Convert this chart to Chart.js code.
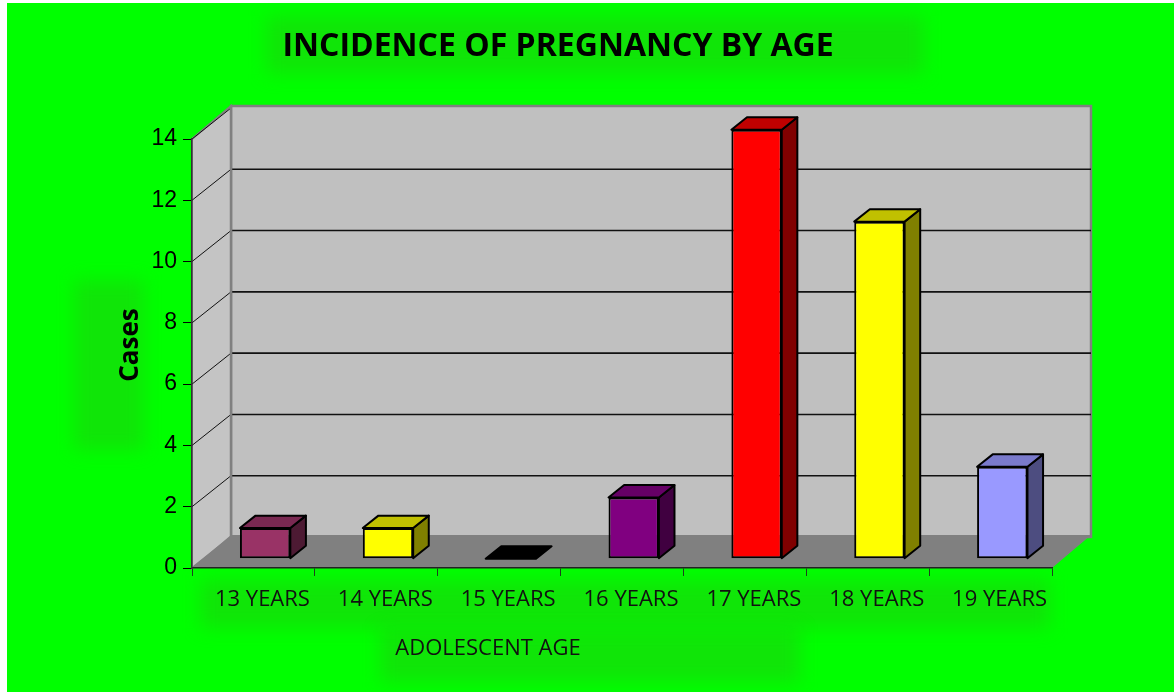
<!DOCTYPE html>
<html>
<head>
<meta charset="utf-8">
<title>Incidence of pregnancy by age</title>
<script src="https://cdn.jsdelivr.net/npm/chart.js@4.4.1/dist/chart.umd.min.js"></script>
<style>
  html, body { margin: 0; padding: 0; background: #fff; }
  #wrap { width: 1174px; height: 692px; }
</style>
</head>
<body>
<div id="wrap"><canvas id="pregChart" width="1174" height="692"></canvas></div>
<script>
// data
const ageLabels = ['13 YEARS', '14 YEARS', '15 YEARS', '16 YEARS', '17 YEARS', '18 YEARS', '19 YEARS'];
const caseCounts = [1, 1, 0, 2, 14, 11, 3];
const faceColors = ['#993366', '#ffff00', '#000000', '#800080', '#ff0000', '#ffff00', '#9999ff'];
const topColors  = ['#7a2952', '#c0c000', '#000000', '#660066', '#c00000', '#c0c000', '#7a7acc'];
const sideColors = ['#4d1a33', '#808000', '#000000', '#400040', '#800000', '#808000', '#4d4d80'];
const yMax = 14;
const yStep = 2;

const chartTitle = 'INCIDENCE OF PREGNANCY BY AGE';
const yTitle = 'Cases';
const xTitle = 'ADOLESCENT AGE';

// fake 3d depth
const DEPTH_X = 39, DEPTH_Y = -31;
const BAR_FRONT = 0.3, BAR_DEPTH = 0.4;

function poly(ctx, pts, fill, stroke, lw) {
    ctx.beginPath();
    ctx.moveTo(pts[0][0], pts[0][1]);
    for (let i = 1; i < pts.length; i++) ctx.lineTo(pts[i][0], pts[i][1]);
    ctx.closePath();
    if (fill) { ctx.fillStyle = fill; ctx.fill(); }
    if (stroke) { ctx.strokeStyle = stroke; ctx.lineWidth = lw || 1; ctx.stroke(); }
}

function softPatch(ctx, x, y, w, h) {
    ctx.save();
    ctx.filter = 'blur(9px)';
    ctx.fillStyle = 'rgba(40,190,20,0.4)';
    ctx.fillRect(x, y, w, h);
    ctx.restore();
}

// green page + the box walls, drawn before the axes
const backdrop = {
    id: 'backdrop',
    beforeDraw(chart) {
        const ctx = chart.ctx;
        const ys = chart.scales.y;
        const a = chart.chartArea;
        ctx.save();
        ctx.fillStyle = '#ffffff';
        ctx.fillRect(0, 0, chart.width, chart.height);
        ctx.fillStyle = '#00ff00';
        ctx.fillRect(7, 3, chart.width - 7, chart.height - 3);

        softPatch(ctx, 266, 16, 658, 58);
        softPatch(ctx, 74, 280, 70, 170);
        softPatch(ctx, 200, 580, 850, 48);
        softPatch(ctx, 380, 630, 420, 52);

        const y0 = ys.getPixelForValue(0);
        const yTop = ys.getPixelForValue(yMax);
        const L = a.left, R = a.right;

        // back wall
        poly(ctx, [[L + DEPTH_X, yTop + DEPTH_Y - 2], [R + DEPTH_X, yTop + DEPTH_Y - 2],
                   [R + DEPTH_X, y0 + DEPTH_Y], [L + DEPTH_X, y0 + DEPTH_Y]], '#c0c0c0', '#808080', 2.5);
        // side wall
        poly(ctx, [[L, yTop], [L + DEPTH_X, yTop + DEPTH_Y - 2], [L + DEPTH_X, y0 + DEPTH_Y], [L, y0]],
             '#c4c4c4', '#808080', 2);
        // floor
        poly(ctx, [[L, y0], [L + DEPTH_X, y0 + DEPTH_Y - 2], [R + DEPTH_X, y0 + DEPTH_Y - 2], [R, y0]],
             '#808080', null);

        // gridlines on the walls
        ctx.strokeStyle = '#111';
        for (let v = yStep; v <= yMax; v += yStep) {
            const py = ys.getPixelForValue(v);
            if (v < yMax) {
                ctx.lineWidth = 1.6;
                ctx.beginPath();
                ctx.moveTo(L + DEPTH_X, py + DEPTH_Y);
                ctx.lineTo(R + DEPTH_X, py + DEPTH_Y);
                ctx.stroke();
            }
            ctx.lineWidth = 1;
            ctx.beginPath();
            ctx.moveTo(L, py);
            ctx.lineTo(L + DEPTH_X, py + DEPTH_Y);
            ctx.stroke();
        }
        // back corner edge
        ctx.strokeStyle = '#808080';
        ctx.lineWidth = 2.5;
        ctx.beginPath();
        ctx.moveTo(L + DEPTH_X, yTop + DEPTH_Y - 2);
        ctx.lineTo(L + DEPTH_X, y0 + DEPTH_Y);
        ctx.stroke();
        ctx.restore();
    }
};

// push bars into the box and give them a top and a side
const bars3d = {
    id: 'bars3d',
    beforeDatasetDraw(chart) {
        chart.ctx.save();
        chart.ctx.translate(BAR_FRONT * DEPTH_X, BAR_FRONT * DEPTH_Y);
    },
    afterDatasetDraw(chart, args) {
        const ctx = chart.ctx;
        const bdx = BAR_DEPTH * DEPTH_X, bdy = BAR_DEPTH * DEPTH_Y;
        ctx.lineJoin = 'round';
        args.meta.data.forEach(function(el, i) {
            const l = el.x - el.width / 2, r = el.x + el.width / 2;
            const t = el.y, b = el.base;
            if (b - t > 0.5) {
                poly(ctx, [[r, t], [r + bdx, t + bdy], [r + bdx, b + bdy], [r, b]], sideColors[i], '#000', 2);
            }
            poly(ctx, [[l, t], [r, t], [r + bdx, t + bdy], [l + bdx, t + bdy]], topColors[i], '#000', 2);
        });
        ctx.restore();
    }
};

const labelsText = {
    id: 'labelsText',
    afterDraw(chart) {
        const ctx = chart.ctx;
        ctx.save();
        ctx.fillStyle = '#000';
        ctx.textAlign = 'center';
        ctx.textBaseline = 'middle';
        ctx.font = 'bold 32px "Open Sans"';
        ctx.fillText(chartTitle, 558, 47);

        ctx.font = '22px "Open Sans"';
        ctx.fillStyle = '#111';
        ctx.fillText(xTitle, 488, 649);

        ctx.translate(131, 345);
        ctx.rotate(-Math.PI / 2);
        ctx.fillStyle = '#000';
        ctx.font = 'bold 26px "Open Sans"';
        ctx.fillText(yTitle, 0, 0);
        ctx.restore();
    }
};

new Chart(document.getElementById('pregChart'), {
    type: 'bar',
    data: {
        labels: ageLabels,
        datasets: [{
            label: 'Cases',
            data: caseCounts,
            backgroundColor: faceColors,
            borderColor: '#000',
            borderWidth: 2,
            borderSkipped: false,
            categoryPercentage: 1,
            barPercentage: 0.41
        }]
    },
    options: {
        responsive: false,
        animation: false,
        devicePixelRatio: 1,
        layout: { padding: { top: 139, right: 122, left: 0, bottom: 0 } },
        plugins: {
            legend: { display: false },
            title: { display: false },
            tooltip: { enabled: false }
        },
        scales: {
            x: {
                grid: { drawOnChartArea: false, drawTicks: true, tickLength: 8, color: '#1f3f1f', offset: true },
                border: { display: true, color: '#222', width: 1.5 },
                ticks: { color: '#111', font: { family: 'Open Sans', size: 22 }, padding: 11, labelOffset: 9 },
                afterFit: function(s) { s.height = 124; }
            },
            y: {
                min: 0,
                max: yMax,
                grid: { drawOnChartArea: false, drawTicks: true, tickLength: 9, color: '#000' },
                border: { display: true, color: '#333', width: 1.5 },
                ticks: { stepSize: yStep, color: '#000', font: { family: 'Liberation Sans', size: 23 }, padding: 6 },
                afterFit: function(s) { s.width = 192; }
            }
        }
    },
    plugins: [backdrop, bars3d, labelsText]
});
</script>
</body>
</html>
